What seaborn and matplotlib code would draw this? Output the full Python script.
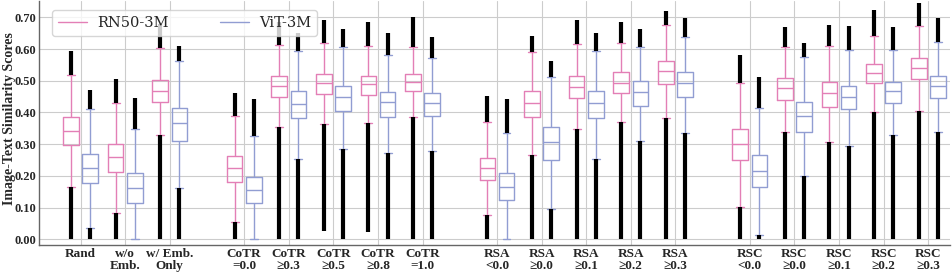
import numpy as np
import pandas as pd
import matplotlib
matplotlib.use('Agg')
import matplotlib.pyplot as plt
from matplotlib.lines import Line2D
import seaborn as sns

# category labels, grouped (Rand / CoTR / RSA / RSC blocks)
labels = ['Rand', 'w/o\nEmb.', 'w/ Emb.\nOnly',
          'CoTR\n=0.0', 'CoTR\n≥0.3', 'CoTR\n≥0.5', 'CoTR\n≥0.8', 'CoTR\n=1.0',
          'RSA\n<0.0', 'RSA\n≥0.0', 'RSA\n≥0.1', 'RSA\n≥0.2', 'RSA\n≥0.3',
          'RSC\n<0.0', 'RSC\n≥0.0', 'RSC\n≥0.1', 'RSC\n≥0.2', 'RSC\n≥0.3']
group = [0, 0, 0, 1, 1, 1, 1, 1, 2, 2, 2, 2, 2, 3, 3, 3, 3, 3]
models = ['RN50-3M', 'ViT-3M']

# RN50-3M box stats
rn50_wlo = [0.165, 0.084, 0.329, 0.056, 0.353, 0.364, 0.366, 0.385, 0.077, 0.266, 0.347, 0.369, 0.382, 0.103, 0.339, 0.306, 0.402, 0.406]
rn50_q1 = [0.297, 0.213, 0.432, 0.180, 0.450, 0.457, 0.455, 0.469, 0.187, 0.387, 0.447, 0.462, 0.490, 0.250, 0.439, 0.418, 0.492, 0.505]
rn50_med = [0.343, 0.259, 0.469, 0.224, 0.484, 0.492, 0.489, 0.497, 0.224, 0.429, 0.481, 0.494, 0.531, 0.300, 0.476, 0.462, 0.523, 0.541]
rn50_q3 = [0.385, 0.300, 0.502, 0.264, 0.514, 0.520, 0.516, 0.521, 0.257, 0.468, 0.514, 0.527, 0.563, 0.347, 0.508, 0.497, 0.552, 0.571]
rn50_whi = [0.518, 0.430, 0.602, 0.390, 0.613, 0.618, 0.610, 0.605, 0.369, 0.590, 0.616, 0.620, 0.676, 0.494, 0.607, 0.611, 0.642, 0.673]
rn50_min = [0.0, 0.0, 0.0, 0.0, 0.0, 0.025, 0.024, 0.0, 0.0, 0.0, 0.0, 0.0, 0.0, 0.0, 0.0, 0.0, 0.0, 0.0]
rn50_max = [0.595, 0.505, 0.680, 0.460, 0.686, 0.690, 0.686, 0.702, 0.453, 0.642, 0.690, 0.684, 0.721, 0.581, 0.670, 0.676, 0.723, 0.746]

# ViT-3M box stats
vit_wlo = [0.037, 0.0, 0.161, 0.0, 0.253, 0.285, 0.273, 0.279, 0.0, 0.095, 0.253, 0.311, 0.334, 0.014, 0.200, 0.295, 0.329, 0.339]
vit_q1 = [0.177, 0.115, 0.311, 0.114, 0.382, 0.405, 0.387, 0.389, 0.124, 0.250, 0.382, 0.421, 0.448, 0.164, 0.339, 0.410, 0.429, 0.445]
vit_med = [0.224, 0.163, 0.366, 0.155, 0.428, 0.448, 0.432, 0.429, 0.166, 0.306, 0.429, 0.464, 0.492, 0.215, 0.390, 0.450, 0.468, 0.483]
vit_q3 = [0.268, 0.208, 0.413, 0.197, 0.468, 0.484, 0.466, 0.460, 0.208, 0.355, 0.468, 0.499, 0.527, 0.266, 0.432, 0.484, 0.497, 0.515]
vit_whi = [0.410, 0.347, 0.562, 0.327, 0.595, 0.605, 0.581, 0.571, 0.334, 0.513, 0.594, 0.607, 0.639, 0.413, 0.574, 0.597, 0.597, 0.621]
vit_min = [0.0] * 18
vit_max = [0.471, 0.447, 0.610, 0.441, 0.650, 0.662, 0.650, 0.639, 0.441, 0.563, 0.650, 0.663, 0.697, 0.513, 0.618, 0.673, 0.670, 0.697]

colors = {'RN50-3M': '#e37fb6', 'ViT-3M': '#919dd2'}

# x positions: categories one apart, a wider gap between blocks
pos = [i + group[i] * 2 / 3 for i in range(len(labels))]

stats = {
    'RN50-3M': (rn50_wlo, rn50_q1, rn50_med, rn50_q3, rn50_whi, rn50_min, rn50_max),
    'ViT-3M': (vit_wlo, vit_q1, vit_med, vit_q3, vit_whi, vit_min, vit_max),
}

rows = []
for m in models:
    wlo, q1, med, q3, whi = stats[m][:5]
    for i in range(len(labels)):
        for v in (wlo[i], q1[i], med[i], q3[i], whi[i]):
            rows.append({'pos': pos[i], 'score': v, 'model': m})
df = pd.DataFrame(rows)

sns.set_style('whitegrid')
plt.rcParams['font.family'] = ['Liberation Serif', 'DejaVu Serif']

fig = plt.figure(figsize=(9.52, 2.73), dpi=100)
ax = fig.add_axes([0.0413, 0.1026, 0.9567, 0.892])

width, gap = 0.86, 0.18
sns.boxplot(df, x='pos', y='score', hue='model', hue_order=models,
            native_scale=True, whis=(0, 100), showfliers=False, fill=False,
            width=width, gap=gap, palette=colors, linewidth=1, legend=False, ax=ax)

# dense outlier runs drawn as thick black strips beyond the whiskers
for k, m in enumerate(models):
    wlo, q1, med, q3, whi, lo, hi = stats[m]
    off = (k - 0.5) * width / 2
    for i in range(len(labels)):
        x = pos[i] + off
        if lo[i] < wlo[i]:
            ax.vlines(x, lo[i], wlo[i], color='black', lw=3, zorder=3)
        if hi[i] > whi[i]:
            ax.vlines(x, whi[i], hi[i], color='black', lw=3, zorder=3)

ax.set_xlim(-0.925, 19.49)
ax.set_ylim(-0.018, 0.75)
ax.set_xticks(pos)
ax.set_xticklabels(labels, fontweight='bold', fontsize=9.5, linespacing=0.95)
ax.set_yticks(np.arange(0, 0.71, 0.1))
ax.set_yticklabels([f'{t:.2f}' for t in np.arange(0, 0.71, 0.1)], fontweight='bold', fontsize=9)
ax.tick_params(axis='both', length=0, pad=2.5)
ax.set_xlabel('')
ax.set_ylabel('Image-Text Similarity Scores', fontweight='bold', fontsize=10)
ax.yaxis.set_label_coords(-0.0255, 0.52)
ax.grid(True, color='#cccccc', lw=0.8)
for s in ['top', 'right']:
    ax.spines[s].set_visible(False)
for s in ['left', 'bottom']:
    ax.spines[s].set_color('#666666')
    ax.spines[s].set_linewidth(1)

handles = [Line2D([], [], color=colors[m], lw=1) for m in models]
ax.legend(handles, models, loc='upper left', ncol=2, bbox_to_anchor=(0.006, 0.995),
          prop={'family': 'DejaVu Serif', 'size': 10.5}, columnspacing=3.5,
          handletextpad=0.7, borderpad=0.4, frameon=True, framealpha=0.8)

fig.savefig('out.png', dpi=100)
